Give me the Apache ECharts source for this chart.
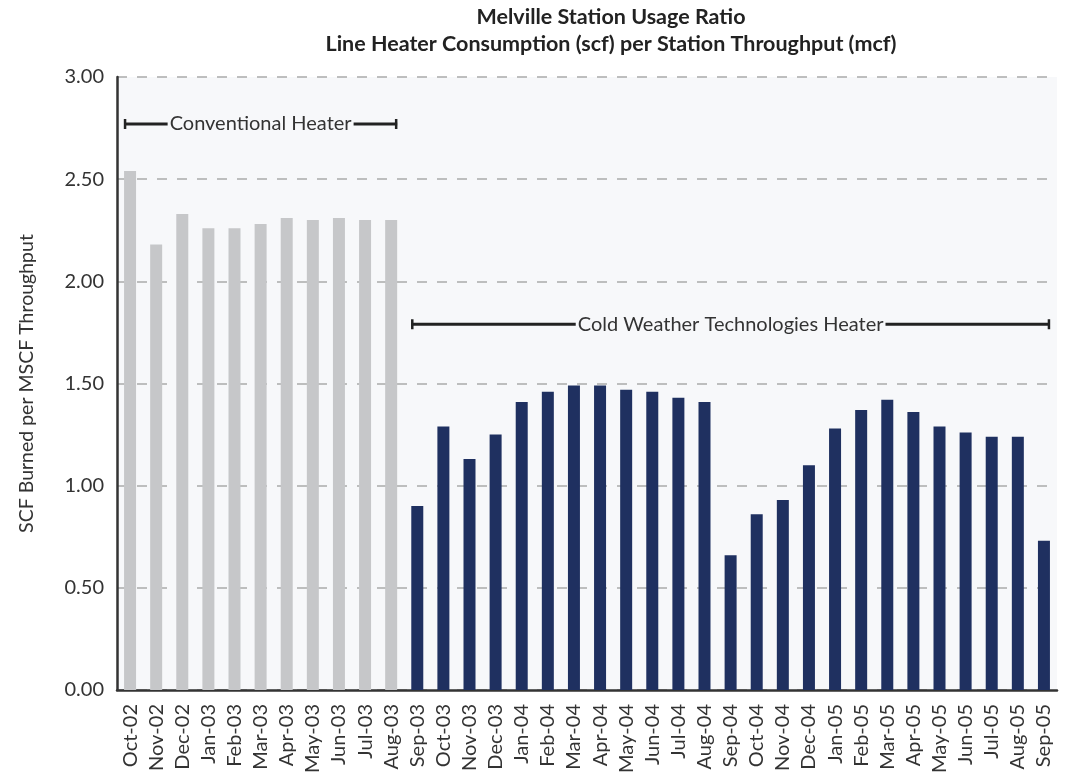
<!DOCTYPE html>
<html>
<head>
<meta charset="utf-8">
<script src="https://cdn.jsdelivr.net/npm/echarts@6/dist/echarts.min.js"></script>
<style>
html,body{margin:0;padding:0;background:#fff;}
#chart{width:1071px;height:776px;}
</style>
</head>
<body>
<div id="chart"></div>
<script>
const categories = ['Oct-02','Nov-02','Dec-02','Jan-03','Feb-03','Mar-03','Apr-03','May-03','Jun-03','Jul-03','Aug-03',
  'Sep-03','Oct-03','Nov-03','Dec-03','Jan-04','Feb-04','Mar-04','Apr-04','May-04','Jun-04','Jul-04','Aug-04',
  'Sep-04','Oct-04','Nov-04','Dec-04','Jan-05','Feb-05','Mar-05','Apr-05','May-05','Jun-05','Jul-05','Aug-05','Sep-05'];
const conventionalValues = [2.54, 2.18, 2.33, 2.26, 2.26, 2.28, 2.31, 2.30, 2.31, 2.30, 2.30];
const coldWeatherValues = [0.90, 1.29, 1.13, 1.25, 1.41, 1.46, 1.49, 1.49, 1.47, 1.46, 1.43, 1.41,
  0.66, 0.86, 0.93, 1.10, 1.28, 1.37, 1.42, 1.36, 1.29, 1.26, 1.24, 1.24, 0.73];
const yTicks = [0, 0.5, 1.0, 1.5, 2.0, 2.5, 3.0];
const annotations = [
  {text: 'Conventional Heater', from: 'Oct-02', to: 'Aug-03', y: 2.77},
  {text: 'Cold Weather Technologies Heater', from: 'Sep-03', to: 'Sep-05', y: 1.79}
];

const nConv = conventionalValues.length;
const convData = categories.map((c, i) => i < nConv ? conventionalValues[i] : '-');
const cwtData = categories.map((c, i) => i >= nConv ? coldWeatherValues[i - nConv] : '-');

const FONT = 'Lato, "DejaVu Sans", sans-serif';
const PLOT_BG = '#F7F8FA';
const chart = echarts.init(document.getElementById('chart'));
const option = {
  backgroundColor: '#ffffff',
  animation: false,
  title: {
    text: 'Melville Station Usage Ratio\nLine Heater Consumption (scf) per Station Throughput (mcf)',
    left: 611, top: 4, padding: 0, textAlign: 'center',
    textStyle: {fontFamily: FONT, fontSize: 21.5, fontWeight: 'bold', color: '#222', lineHeight: 27}
  },
  grid: {left: 117, right: 14, top: 77, bottom: 86, show: true, backgroundColor: PLOT_BG, borderWidth: 0,
    containLabel: false, outerBoundsMode: 'none'},
  xAxis: {
    type: 'category', data: categories,
    axisLine: {show: true, lineStyle: {color: '#333', width: 2.5}},
    axisTick: {show: false},
    axisLabel: {rotate: 90, margin: 14, fontFamily: FONT, fontSize: 20, color: '#333', interval: 0}
  },
  yAxis: {
    type: 'value', min: 0, max: 3, interval: 0.5,
    name: 'SCF Burned per MSCF Throughput', nameLocation: 'middle', nameGap: 80,
    nameTextStyle: {fontFamily: FONT, fontSize: 19.5, color: '#333'},
    axisLine: {show: true, lineStyle: {color: '#333', width: 2.5}},
    axisTick: {show: false},
    axisLabel: {margin: 13, fontFamily: FONT, fontSize: 20, color: '#333',
      formatter: v => yTicks.indexOf(v) >= 0 ? v.toFixed(2) : ''},
    splitLine: {show: true, lineStyle: {color: '#AAAAAA', type: [10, 10], width: 1.5}}
  },
  series: [
    {type: 'bar', name: 'Conventional Heater', data: convData, barWidth: 12, barGap: '-100%',
      itemStyle: {color: '#C6C7C9'}},
    {type: 'bar', name: 'Cold Weather Technologies Heater', data: cwtData, barWidth: 12, barGap: '-100%',
      itemStyle: {color: '#1F3060'}}
  ]
};
chart.setOption(option);

function drawAnnotations() {
  const els = [];
  const half = 6;
  annotations.forEach((a, k) => {
    const x1 = chart.convertToPixel({xAxisIndex: 0}, a.from) - half;
    const x2 = chart.convertToPixel({xAxisIndex: 0}, a.to) + half;
    const y = chart.convertToPixel({yAxisIndex: 0}, a.y);
    els.push({type: 'line', z: 100, shape: {x1: x1, y1: y, x2: x2, y2: y}, style: {stroke: '#222', lineWidth: 3}});
    els.push({type: 'line', z: 100, shape: {x1: x1 + 1, y1: y - 5, x2: x1 + 1, y2: y + 5}, style: {stroke: '#222', lineWidth: 2.5}});
    els.push({type: 'line', z: 100, shape: {x1: x2 - 1, y1: y - 5, x2: x2 - 1, y2: y + 5}, style: {stroke: '#222', lineWidth: 2.5}});
    els.push({type: 'text', z: 101, x: (x1 + x2) / 2, y: y,
      style: {text: a.text, fill: '#333', font: '20px ' + FONT, align: 'center', verticalAlign: 'middle',
        backgroundColor: PLOT_BG, padding: [2, 2]}});
  });
  chart.setOption({graphic: els});
}
drawAnnotations();
</script>
</body>
</html>
